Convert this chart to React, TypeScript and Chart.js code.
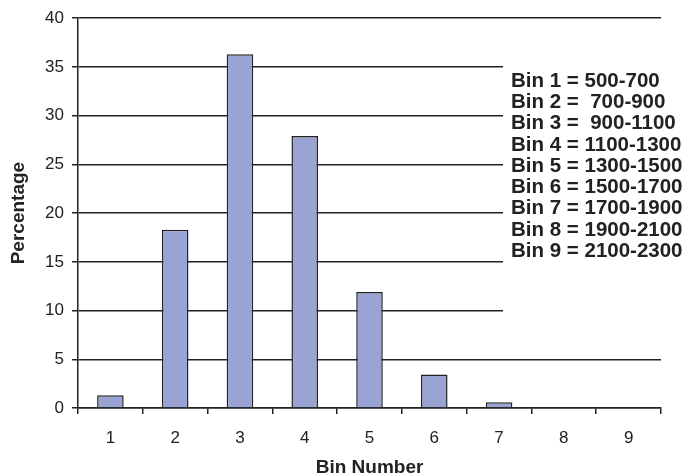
import React, { useEffect, useRef } from "react";
import { Chart, registerables } from "chart.js";

Chart.register(...registerables);

const categories = ["1", "2", "3", "4", "5", "6", "7", "8", "9"];
const percentages = [1.3, 18.3, 36.3, 27.9, 11.9, 3.45, 0.6, 0.1, 0];
const binRanges = [
  "Bin 1 = 500-700",
  "Bin 2 =  700-900",
  "Bin 3 =  900-1100",
  "Bin 4 = 1100-1300",
  "Bin 5 = 1300-1500",
  "Bin 6 = 1500-1700",
  "Bin 7 = 1700-1900",
  "Bin 8 = 1900-2100",
  "Bin 9 = 2100-2300",
];
const yMin = 0;
const yMax = 40;
const yStep = 5;

const FONT = "'Liberation Sans', Arial, sans-serif";
const DARK = "#222222";

const legendTextPlugin = {
  id: "legendText",
  afterDraw(chart: any) {
    const { ctx, chartArea } = chart;
    const boxLeft = chartArea.left + 425;
    const boxTop = chartArea.top + 46;
    const boxBottom = chartArea.top + 298;
    ctx.save();
    ctx.fillStyle = "#ffffff";
    ctx.fillRect(boxLeft, boxTop, chart.width - boxLeft, boxBottom - boxTop);
    ctx.fillStyle = DARK;
    ctx.font = `bold 20.5px ${FONT}`;
    ctx.textBaseline = "middle";
    ctx.textAlign = "left";
    binRanges.forEach((t, i) => {
      const s = t.replace(/  /g, "\u00a0 ");
      ctx.fillText(s, boxLeft + 8, chartArea.top + 63 + i * 21.25);
    });
    ctx.restore();
  },
};

export default function App() {
  const ref = useRef<HTMLCanvasElement | null>(null);
  useEffect(() => {
    if (!ref.current) return;
    const chart = new Chart(ref.current, {
      type: "bar",
      data: {
        labels: categories,
        datasets: [
          {
            data: percentages,
            backgroundColor: "#99a3d4",
            borderColor: DARK,
            borderWidth: 1.5,
            barPercentage: 0.41,
            categoryPercentage: 1,
          },
        ],
      },
      plugins: [legendTextPlugin],
      options: {
        responsive: false,
        animation: false,
        devicePixelRatio: 1,
        layout: { padding: { top: 12, right: 24, left: 0, bottom: 0 } },
        plugins: {
          legend: { display: false },
          tooltip: { enabled: false },
        },
        scales: {
          x: {
            type: "category",
            offset: true,
            grid: {
              offset: true,
              drawOnChartArea: false,
              drawTicks: true,
              tickLength: 6,
              color: DARK,
              lineWidth: 1.5,
            },
            border: { color: DARK, width: 1.5 },
            ticks: {
              color: DARK,
              font: { family: FONT, size: 17 },
              padding: 14,
            },
            title: {
              display: true,
              text: "Bin Number",
              color: DARK,
              font: { family: FONT, size: 19, weight: "bold", lineHeight: 1 },
              padding: { top: 0, bottom: -2 },
            },
            afterFit(scale: any) {
              scale.height = 67;
            },
          },
          y: {
            min: yMin,
            max: yMax,
            grid: {
              color: DARK,
              lineWidth: 1.5,
              tickLength: 6,
            },
            border: { color: DARK, width: 1.5 },
            ticks: {
              stepSize: yStep,
              color: DARK,
              font: { family: FONT, size: 17 },
              padding: 8,
            },
            title: {
              display: true,
              text: "Percentage",
              color: DARK,
              font: { family: FONT, size: 19, weight: "bold", lineHeight: 1 },
              padding: { top: 9, bottom: 0 },
            },
            afterFit(scale: any) {
              scale.width = 78;
            },
          },
        },
      },
    } as any);
    return () => chart.destroy();
  }, []);
  return (
    <div style={{ position: "absolute", left: 0, top: 0, width: 685, height: 475, background: "#fff" }}>
      <canvas ref={ref} width={685} height={475} style={{ width: 685, height: 475, display: "block" }} />
    </div>
  );
}
